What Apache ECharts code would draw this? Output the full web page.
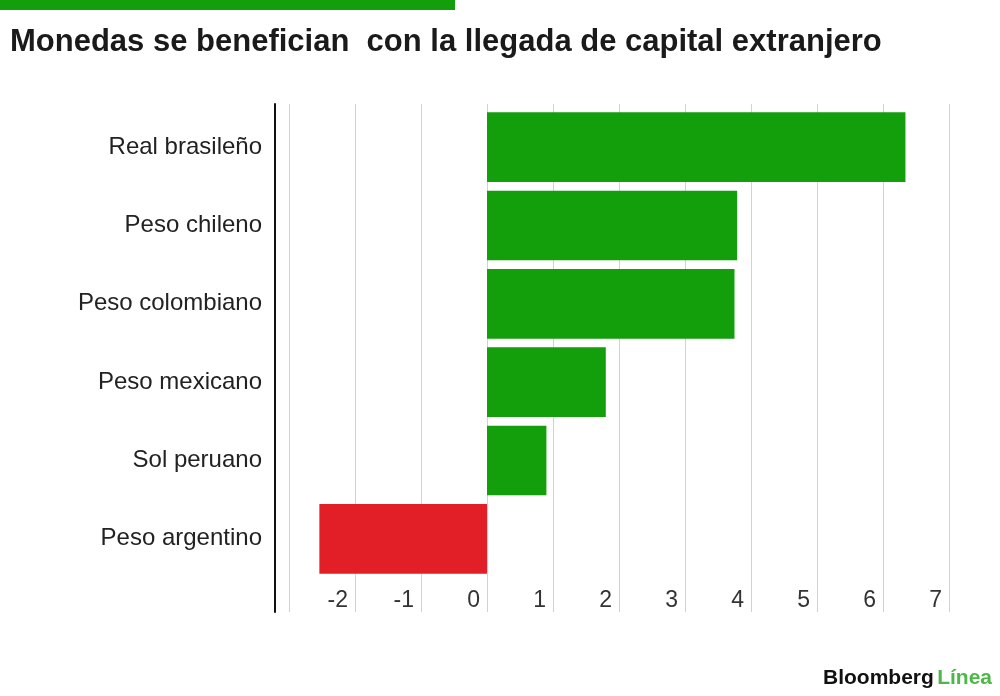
<!DOCTYPE html>
<html>
<head>
<meta charset="utf-8">
<script src="https://cdn.jsdelivr.net/npm/echarts@6/dist/echarts.min.js"></script>
<style>
  html, body { margin: 0; padding: 0; background: #fff; }
  #chart { width: 1000px; height: 696px; }
</style>
</head>
<body>
<div id="chart"></div>
<script>
// ====== Data ======
var currencies = ['Real brasileño', 'Peso chileno', 'Peso colombiano', 'Peso mexicano', 'Sol peruano', 'Peso argentino'];
var changes = [6.34, 3.79, 3.75, 1.80, 0.90, -2.54];
var tickMin = -3, tickMax = 7;

var green = '#139e0b';
var red = '#e21f26';
var font = 'Liberation Sans, Arial, sans-serif';

var chart = echarts.init(document.getElementById('chart'), null, { renderer: 'canvas' });

chart.setOption({
  animation: false,
  backgroundColor: '#fff',
  title: {
    text: 'Monedas se benefician  con la llegada de capital extranjero',
    left: 5, top: 22,
    textStyle: { color: '#1a1a1a', fontFamily: font, fontWeight: 'bold', fontSize: 31 }
  },
  graphic: [
    { type: 'rect', left: 0, top: 0, shape: { width: 455, height: 10 }, style: { fill: green } },
    {
      type: 'text', right: 8, bottom: 7,
      style: {
        text: '{b|Bloomberg} {l|Línea}',
        rich: {
          b: { fontFamily: font, fontWeight: 'bold', fontSize: 21, fill: '#111' },
          l: { fontFamily: font, fontWeight: 'bold', fontSize: 21, fill: '#4cb847' }
        }
      }
    }
  ],
  grid: [
    // bars
    { left: 275, right: 51, top: 108, bottom: 118 },
    // gridlines and ticks
    { left: 289, right: 51, top: 104, bottom: 84 }
  ],
  xAxis: [
    {
      gridIndex: 0, type: 'value', min: -3.212, max: tickMax,
      axisLine: { show: false }, axisTick: { show: false },
      axisLabel: { show: false }, splitLine: { show: false }
    },
    {
      gridIndex: 1, type: 'value', min: tickMin, max: tickMax, interval: 1,
      axisLine: { show: false }, axisTick: { show: false },
      splitLine: { lineStyle: { color: '#d2d2d2', width: 1 } },
      axisLabel: {
        inside: true, margin: 0, align: 'right', padding: [0, 7, 0, 0],
        color: '#333', fontFamily: font, fontSize: 23,
        formatter: function(v) { return v === tickMin ? '' : String(v); }
      }
    }
  ],
  yAxis: [
    {
      gridIndex: 0, type: 'category', data: currencies, inverse: true,
      axisLine: { show: false }, axisTick: { show: false },
      axisLabel: { color: '#222', fontFamily: font, fontSize: 24, margin: 13 }
    },
    {
      gridIndex: 1, type: 'value', position: 'left', offset: 14,
      axisLine: { show: true, onZero: false, lineStyle: { color: '#111', width: 2 } },
      axisTick: { show: false }, axisLabel: { show: false }, splitLine: { show: false }
    }
  ],
  series: [
    {
      type: 'bar', xAxisIndex: 0, yAxisIndex: 0,
      data: changes,
      barCategoryGap: '11%',
      itemStyle: {
        color: function(p) { return p.value >= 0 ? green : red; }
      }
    }
  ]
});
</script>
</body>
</html>
